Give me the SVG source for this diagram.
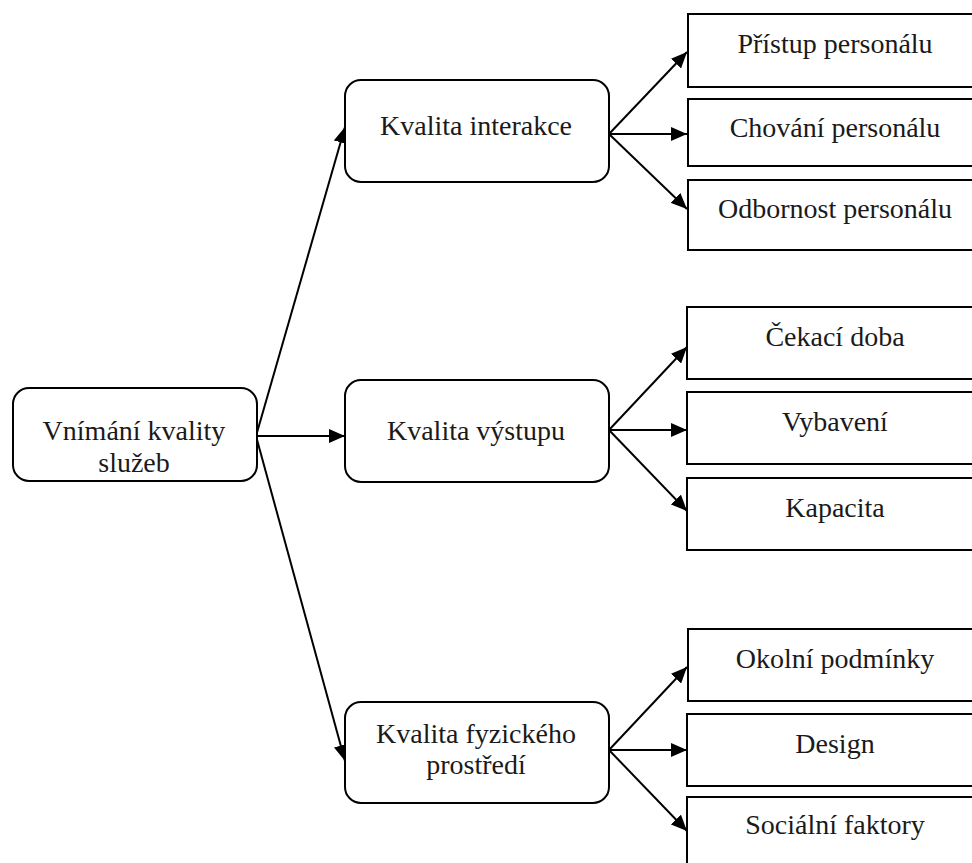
<svg xmlns="http://www.w3.org/2000/svg" width="972" height="863" viewBox="0 0 972 863">
  <style>
    .box { fill: #ffffff; stroke: #000000; stroke-width: 2; }
    text { font-family: "Liberation Serif", "DejaVu Serif", Times, serif !important; font-size: 28px; fill: #1a1a1a; text-anchor: middle; }
    .edge { stroke: #000000; stroke-width: 2; fill: none; marker-end: url(#arrow); }
  </style>
  <defs>
    <marker id="arrow" markerUnits="userSpaceOnUse" markerWidth="18" markerHeight="14" refX="16" refY="7" orient="auto">
      <path d="M0,0 L16,7 L0,14 z" fill="#000000"/>
    </marker>
  </defs>
  <rect width="972" height="863" fill="#ffffff"/>

  <!-- connectors -->
  <g id="connectors">
    <line class="edge" x1="256" y1="436" x2="345" y2="127"/>
    <line class="edge" x1="256" y1="436" x2="345" y2="436"/>
    <line class="edge" x1="256" y1="436" x2="345" y2="761"/>

    <line class="edge" x1="609" y1="134" x2="687" y2="52"/>
    <line class="edge" x1="609" y1="134" x2="687" y2="134"/>
    <line class="edge" x1="609" y1="134" x2="687" y2="209"/>

    <line class="edge" x1="609" y1="430" x2="687" y2="347"/>
    <line class="edge" x1="609" y1="430" x2="687" y2="430"/>
    <line class="edge" x1="609" y1="430" x2="687" y2="511"/>

    <line class="edge" x1="609" y1="750" x2="687" y2="667"/>
    <line class="edge" x1="609" y1="750" x2="687" y2="750"/>
    <line class="edge" x1="609" y1="750" x2="687" y2="831"/>
  </g>

  <!-- root -->
  <g id="vnimani">
    <rect class="box" x="13" y="388" width="244" height="93" rx="16"/>
    <text x="134" y="440" font-family="Liberation Serif">Vnímání kvality</text>
    <text x="134" y="472" font-family="Liberation Serif">služeb</text>
  </g>

  <!-- second level -->
  <g id="interakce">
    <rect class="box" x="345" y="80" width="264" height="102" rx="16"/>
    <text x="476" y="135" font-family="Liberation Serif">Kvalita interakce</text>
  </g>
  <g id="vystup">
    <rect class="box" x="345" y="380" width="264" height="102" rx="16"/>
    <text x="476" y="440" font-family="Liberation Serif">Kvalita výstupu</text>
  </g>
  <g id="fyzicke">
    <rect class="box" x="345" y="702" width="264" height="101" rx="16"/>
    <text x="476" y="743" font-family="Liberation Serif">Kvalita fyzického</text>
    <text x="476" y="774" font-family="Liberation Serif">prostředí</text>
  </g>

  <!-- third level -->
  <g id="pristup">
    <rect class="box" x="688" y="14" width="300" height="73"/>
    <text x="835" y="53" font-family="Liberation Serif">Přístup personálu</text>
  </g>
  <g id="chovani">
    <rect class="box" x="688" y="99" width="300" height="67"/>
    <text x="835" y="137" font-family="Liberation Serif">Chování personálu</text>
  </g>
  <g id="odbornost">
    <rect class="box" x="688" y="180" width="300" height="70"/>
    <text x="835" y="218" font-family="Liberation Serif">Odbornost personálu</text>
  </g>

  <g id="cekaci">
    <rect class="box" x="687" y="307" width="300" height="72"/>
    <text x="835" y="346" font-family="Liberation Serif">Čekací doba</text>
  </g>
  <g id="vybaveni">
    <rect class="box" x="687" y="392" width="300" height="72"/>
    <text x="835" y="431" font-family="Liberation Serif">Vybavení</text>
  </g>
  <g id="kapacita">
    <rect class="box" x="687" y="478" width="300" height="72"/>
    <text x="835" y="517" font-family="Liberation Serif">Kapacita</text>
  </g>

  <g id="okolni">
    <rect class="box" x="688" y="629" width="300" height="72"/>
    <text x="835" y="668" font-family="Liberation Serif">Okolní podmínky</text>
  </g>
  <g id="design">
    <rect class="box" x="687" y="714" width="300" height="72"/>
    <text x="835" y="753" font-family="Liberation Serif">Design</text>
  </g>
  <g id="socialni">
    <rect class="box" x="687" y="797" width="300" height="72"/>
    <text x="835" y="834" font-family="Liberation Serif">Sociální faktory</text>
  </g>
</svg>
